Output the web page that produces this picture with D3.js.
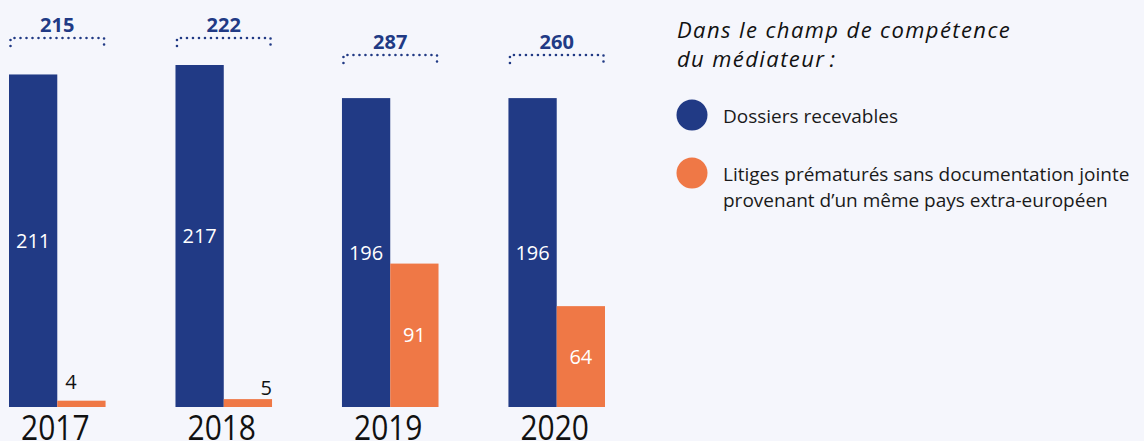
<!DOCTYPE html>
<html>
<head>
<meta charset="utf-8">
<script src="https://cdn.jsdelivr.net/npm/d3@7"></script>
<style>
  html, body { margin: 0; padding: 0; background: #f5f6fc; }
  svg { display: block; font-family: "Open Sans", sans-serif; }
</style>
</head>
<body>
<div id="canvas"></div>
<script>
"use strict"

/* Data */
let years = ["2017", "2018", "2019", "2020"];
let recevables = [211, 217, 196, 196];
let prematures = [4, 5, 91, 64];
let totals = [215, 222, 287, 260];
let seriesNames = ["Dossiers recevables",
    "Litiges prématurés sans documentation jointe provenant d\u2019un même pays extra-européen"];

/* Drawing settings */
let svgWidth = 1144;
let svgHeight = 441;
let baseY = 407;
let blue = "#213a85";
let orange = "#ef7846";

let svg = d3.select("#canvas")
    .append("svg")
    .attr("width", svgWidth)
    .attr("height", svgHeight);

svg.append("rect")
    .attr("width", svgWidth)
    .attr("height", svgHeight)
    .attr("fill", "#f5f6fc");

let xScale = d3.scaleBand()
    .domain(years)
    .range([9, 605])
    .paddingInner(0.42)
    .paddingOuter(0);

let subScale = d3.scaleBand()
    .domain([0, 1])
    .range([0, xScale.bandwidth()]);

let yScale = d3.scaleLinear()
    .domain([0, 250])
    .range([baseY, 13]);

let colorScale = d3.scaleOrdinal()
    .domain([0, 1])
    .range([blue, orange]);

// one row per bar
let bars = [];
years.forEach(function (y, i) {
    bars.push({ year: y, s: 0, value: recevables[i], idx: i });
    bars.push({ year: y, s: 1, value: prematures[i], idx: i });
});

svg.selectAll("rect.bar")
    .data(bars)
    .join("rect")
    .attr("class", "bar")
    .attr("x", d => xScale(d.year) + subScale(d.s))
    .attr("y", d => yScale(d.value))
    .attr("width", subScale.bandwidth())
    .attr("height", d => baseY - yScale(d.value))
    .attr("fill", d => colorScale(d.s));

/* value labels: white inside tall bars, black above tiny ones */
// tiny labels sit a bit off-centre in the original
let smallAnchor = ["start", "end", "middle", "middle"];
svg.selectAll("text.val")
    .data(bars)
    .join("text")
    .attr("class", "val")
    .attr("font-size", 20)
    .each(function (d) {
        let t = d3.select(this);
        let x0 = xScale(d.year) + subScale(d.s);
        let top = yScale(d.value);
        let h = baseY - top;
        if (h > 30) {
            t.attr("x", x0 + subScale.bandwidth() / 2)
                .attr("y", top + h / 2 + 7)
                .attr("text-anchor", "middle")
                .attr("fill", "white");
        } else {
            let a = smallAnchor[d.idx];
            let x = a === "start" ? x0 + 8 : (a === "end" ? x0 + subScale.bandwidth() : x0 + subScale.bandwidth() / 2);
            t.attr("x", x)
                .attr("y", d.idx === 0 ? top - 12 : top - 4)
                .attr("text-anchor", a)
                .attr("fill", "#111");
        }
    })
    .text(d => d.value);

/* dotted brackets with totals */
let bracketY = [38, 38, 55, 55];
years.forEach(function (y, i) {
    let x0 = xScale(y) + 1.5;
    let x1 = xScale(y) + xScale.bandwidth() - 1.5;
    let by = bracketY[i];
    svg.append("path")
        .attr("d", "M" + x0 + "," + (by + 8) + "V" + by + "H" + x1 + "V" + (by + 8))
        .attr("fill", "none")
        .attr("stroke", blue)
        .attr("stroke-width", 2.6)
        .attr("stroke-linecap", "round")
        .attr("stroke-dasharray", "0 6");
    svg.append("text")
        .attr("x", xScale(y) + xScale.bandwidth() / 2)
        .attr("y", by - 6)
        .attr("text-anchor", "middle")
        .attr("font-size", 20)
        .attr("font-weight", "bold")
        .attr("fill", blue)
        .text(totals[i]);
});

/* year labels (cut by the bottom edge, as in the original) */
svg.selectAll("text.year")
    .data(years)
    .join("text")
    .attr("class", "year")
    .attr("transform", d => "translate(" + (xScale(d) + xScale.bandwidth() / 2 - 2) + ",440) scale(0.88,1)")
    .attr("text-anchor", "middle")
    .attr("font-size", 34)
    .attr("fill", "#111")
    .text(d => d);

/* legend */
let legendX = 677;
let title = svg.append("text")
    .attr("x", legendX)
    .attr("y", 38)
    .attr("font-size", 22)
    .attr("letter-spacing", 1.4)
    .attr("font-style", "italic")
    .attr("fill", "#111");
title.append("tspan").attr("x", legendX).text("Dans le champ de compétence");
title.append("tspan").attr("x", legendX).attr("dy", 29).text("du médiateur\u202F:");

let legendRows = [
    { s: 0, cy: 115, lines: [seriesNames[0]] },
    { s: 1, cy: 173, lines: ["Litiges prématurés sans documentation jointe", "provenant d\u2019un même pays extra-européen"] }
];

legendRows.forEach(function (r) {
    svg.append("circle")
        .attr("cx", 692)
        .attr("cy", r.cy)
        .attr("r", 15.5)
        .attr("fill", colorScale(r.s));
    let t = svg.append("text")
        .attr("x", 723)
        .attr("y", r.cy + 8)
        .attr("font-size", 19)
        .attr("fill", "#1a1a1a");
    r.lines.forEach(function (l, k) {
        t.append("tspan").attr("x", 723).attr("dy", k === 0 ? 0 : 26).text(l);
    });
});
</script>
</body>
</html>
